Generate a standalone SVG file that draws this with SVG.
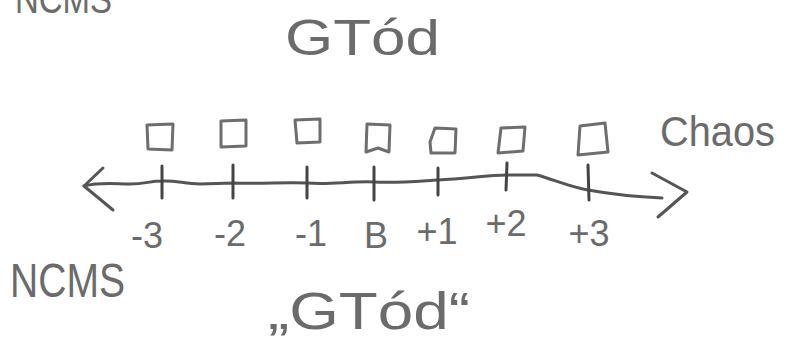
<svg xmlns="http://www.w3.org/2000/svg" width="787" height="347" viewBox="0 0 787 347">
<style>
.t{font-family:"Liberation Sans","DejaVu Sans",sans-serif;fill:#6b6b6b}
.lbl{font-size:36px;text-anchor:middle}
.box{fill:none;stroke:#6e6e6e;stroke-width:3;stroke-linejoin:round}
.ax{fill:none;stroke:#555;stroke-width:3;stroke-linecap:round;stroke-linejoin:round}
.tick{stroke:#444;stroke-width:3;stroke-linecap:round}
</style>
<rect width="787" height="347" fill="#fff"/>
<g id="title-top-left"><text class="t" x="15" y="13" font-size="40" textLength="97" lengthAdjust="spacingAndGlyphs">NCMS</text></g>
<g id="title-top"><text class="t" x="285" y="55" font-size="50" textLength="155" lengthAdjust="spacingAndGlyphs">GTód</text></g>
<g id="chaos"><text class="t" x="660" y="146" font-size="42" textLength="115" lengthAdjust="spacingAndGlyphs">Chaos</text></g>
<g id="ncms-bottom"><text class="t" x="10" y="297" font-size="48" textLength="115" lengthAdjust="spacingAndGlyphs">NCMS</text></g>
<g id="gtod-quoted"><text class="t" x="268" y="329" font-size="52" textLength="202" lengthAdjust="spacingAndGlyphs">„GTód“</text></g>
<g id="connectors">
<path class="ax" d="M84,186 C100,182 115,184 130,184 C145,184 150,181 162,181 C175,180 185,184 200,184 L233,183 C260,184 285,182 307,183 C330,185 350,181 374,182 C400,183 420,181 438,180 C470,178 490,175 507,175 L537,175 C555,180 570,187 588,190 C610,194 640,197 662,198"/>
<path class="ax" d="M103,168 L84,186 L113,210"/>
<path class="ax" d="M652,173 L687,192 L658,217"/>
</g>
<g id="n-3"><path class="box" d="M147,125 L173,124 L172,150 L148,149 Z"/><line class="tick" x1="162" y1="166" x2="162" y2="198"/><text class="t lbl" x="147" y="248">-3</text></g>
<g id="n-2"><path class="box" d="M221,121 L246,120 L246,146 L221,147 Z"/><line class="tick" x1="233" y1="165" x2="233" y2="198"/><text class="t lbl" x="230" y="246">-2</text></g>
<g id="n-1"><path class="box" d="M295,120 L320,119 L320,142 L297,143 Z"/><line class="tick" x1="307" y1="167" x2="307" y2="198"/><text class="t lbl" x="311" y="246">-1</text></g>
<g id="n-B"><path class="box" d="M367,124 L390,125 L389,152 L378,148 L366,152 Z"/><line class="tick" x1="374" y1="167" x2="374" y2="200"/><text class="t lbl" x="376" y="248">B</text></g>
<g id="n+1"><path class="box" d="M435,128 L456,129 L455,153 L431,153 L430,142 Z"/><line class="tick" x1="438" y1="168" x2="438" y2="195"/><text class="t lbl" x="437" y="244">+1</text></g>
<g id="n+2"><path class="box" d="M501,128 L525,127 L523,151 L498,153 Z"/><line class="tick" x1="507" y1="163" x2="506" y2="190"/><text class="t lbl" x="506" y="236">+2</text></g>
<g id="n+3"><path class="box" d="M580,126 L605,123 L608,152 L578,155 Z"/><line class="tick" x1="588" y1="165" x2="589" y2="200"/><text class="t lbl" x="589" y="246">+3</text></g>
</svg>
